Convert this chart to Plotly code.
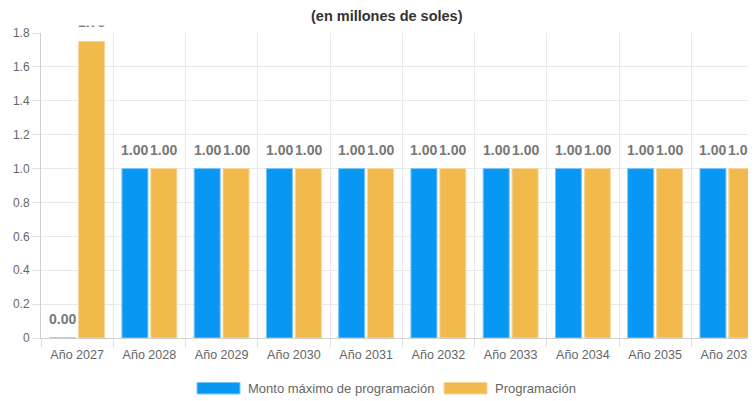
import plotly.graph_objects as go

categories = ["Año 2027", "Año 2028", "Año 2029", "Año 2030", "Año 2031",
              "Año 2032", "Año 2033", "Año 2034", "Año 2035", "Año 2036"]
monto_maximo = [0.00, 1.00, 1.00, 1.00, 1.00, 1.00, 1.00, 1.00, 1.00, 1.00]
programacion = [1.75, 1.00, 1.00, 1.00, 1.00, 1.00, 1.00, 1.00, 1.00, 1.00]
series_names = ["Monto máximo de programación", "Programación"]
title_text = "(en millones de soles)"

BLUE = "#0898f4"
ORANGE = "#f2b94c"
FONT = "Liberation Sans, Arial, sans-serif"

fig = go.Figure()
fig.add_trace(go.Bar(x=categories, y=monto_maximo, name=series_names[0],
                     marker=dict(color=BLUE, line=dict(color="#7cc4f7", width=1))))
fig.add_trace(go.Bar(x=categories, y=programacion, name=series_names[1],
                     marker=dict(color=ORANGE, line=dict(color="#f7d69a", width=1))))

annotations = []
for cat, a, b in zip(categories, monto_maximo, programacion):
    for val, sh in ((a, -14.5), (b, 14.5)):
        annotations.append(dict(x=cat, y=val, xref="x", yref="y", text=f"{val:.2f}",
                                showarrow=False, xshift=sh, yshift=19, yanchor="middle",
                                font=dict(family=FONT, size=14, color="#777777", weight="bold")))
# white mask over the very top (hides the clipped label like the reference)
annotations.append(dict(x=0.5, y=1.0, xref="paper", yref="paper", yanchor="bottom",
                        text=" ", showarrow=False, width=760, height=18, yshift=7,
                        bgcolor="white", borderpad=0))
# title drawn above the mask
annotations.append(dict(x=0.5, y=1.0, xref="paper", yref="paper", xanchor="center",
                        yanchor="middle", yshift=17, xshift=-11.5, text=f"<b>{title_text}</b>",
                        showarrow=False, font=dict(family=FONT, size=14.5, color="#333333")))
# custom legend
annotations.append(dict(x=0.2867, y=-0.1656, xref="paper", yref="paper", xanchor="left",
                        yanchor="middle", text=series_names[0], showarrow=False,
                        font=dict(family=FONT, size=13, color="#666666")))
annotations.append(dict(x=0.6322, y=-0.1656, xref="paper", yref="paper", xanchor="left",
                        yanchor="middle", text=series_names[1], showarrow=False,
                        font=dict(family=FONT, size=13, color="#666666")))

shapes = [
    dict(type="rect", xref="paper", yref="paper", x0=0.2182, x1=0.2783, y0=-0.1459, y1=-0.1836,
         fillcolor=BLUE, line=dict(color="#7cc4f7", width=1)),
    dict(type="rect", xref="paper", yref="paper", x0=0.5636, x1=0.6238, y0=-0.1459, y1=-0.1836,
         fillcolor=ORANGE, line=dict(color="#f7d69a", width=1)),
]

# the page body has an 8px margin, so the figure is 748x393 placed at (8, 8)
fig.update_layout(
    width=748, height=393,
    margin=dict(l=33, r=0, t=25, b=63),
    paper_bgcolor="white", plot_bgcolor="white",
    barmode="group", bargap=0.2, bargroupgap=0.1,
    showlegend=False,
    font=dict(family=FONT, size=12, color="#666666"),
    annotations=annotations,
    shapes=shapes,
    xaxis=dict(range=[-0.5, 9.396], tickson="boundaries", showgrid=True, gridcolor="#e8e8e8",
               showline=True, linecolor="#cfcfcf", ticks="outside", ticklen=8,
               tickcolor="#e0e0e0", tickfont=dict(size=12.5, color="#666666"),
               ticklabelstandoff=5),
    yaxis=dict(range=[0, 1.8], showgrid=True, gridcolor="#e8e8e8",
               showline=True, linecolor="#cfcfcf", ticks="outside", ticklen=8,
               tickcolor="#e0e0e0", zeroline=False, tickfont=dict(size=12, color="#666666"),
               tickvals=[0, 0.2, 0.4, 0.6, 0.8, 1.0, 1.2, 1.4, 1.6, 1.8],
               ticktext=["0", "0.2", "0.4", "0.6", "0.8", "1.0", "1.2", "1.4", "1.6", "1.8"]),
)

fig.write_html("out.html")
